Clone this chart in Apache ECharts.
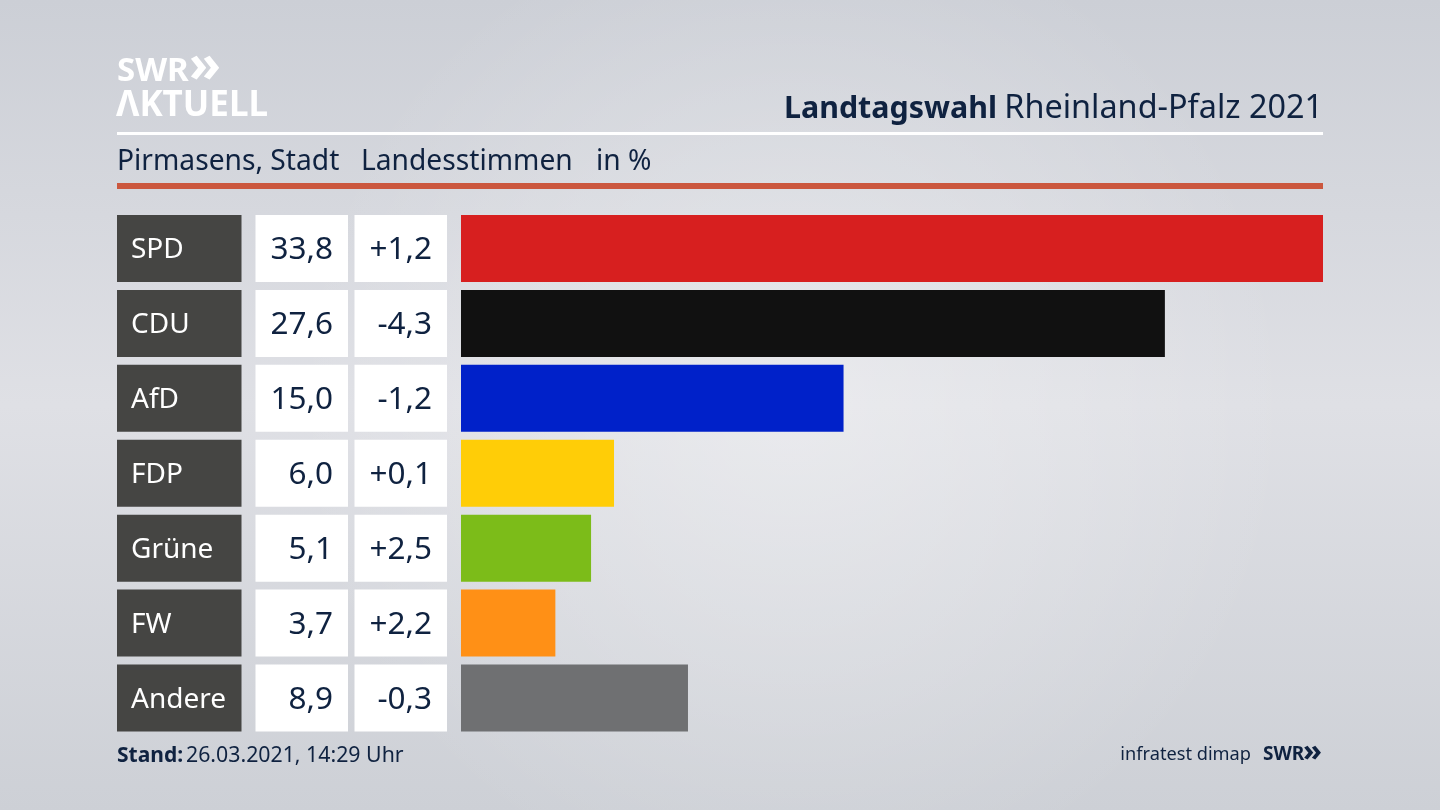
<!DOCTYPE html>
<html>
<head>
<meta charset="utf-8">
<title>Landtagswahl Rheinland-Pfalz 2021</title>
<style>
html, body { margin: 0; padding: 0; background: #d8dadf; }
#chart { width: 1440px; height: 810px; }
</style>
<script src="https://cdn.jsdelivr.net/npm/echarts@6/dist/echarts.min.js"></script>
</head>
<body>
<div id="chart"></div>
<script>
var parties = ['SPD', 'CDU', 'AfD', 'FDP', 'Grüne', 'FW', 'Andere'];
var shares = [33.8, 27.6, 15.0, 6.0, 5.1, 3.7, 8.9];
var changes = ['+1,2', '-4,3', '-1,2', '+0,1', '+2,5', '+2,2', '-0,3'];
var colors = ['#d71f1f', '#111111', '#0021c9', '#ffcd07', '#7cbc19', '#ff9016', '#6f7072'];

var font = '"Noto Sans", sans-serif';
var navy = '#0f2240';

function shareText(v) {
    return v.toFixed(1).replace('.', ',');
}

// one grid per column, they all share the same rows
function makeGrid(left, width) {
    return { left: left, width: width, top: 211, height: 524.5 };
}
var grids = [makeGrid(117, 124.5), makeGrid(255.5, 92.5), makeGrid(354.5, 92.5), makeGrid(461, 862)];

var xAxes = grids.map(function (g, i) {
    return { gridIndex: i, type: 'value', min: 0, max: i == 3 ? 33.8 : 1, show: false };
});
var yAxes = grids.map(function (g, i) {
    return { gridIndex: i, type: 'category', inverse: true, data: parties, show: false };
});

function cellSeries(index, color, textColor, align, padding, texts) {
    return {
        type: 'bar',
        xAxisIndex: index,
        yAxisIndex: index,
        barWidth: 67,
        silent: true,
        itemStyle: { color: color },
        label: {
            show: true,
            position: align == 'left' ? 'insideLeft' : 'insideRight',
            distance: padding,
            offset: [0, 2],
            color: textColor,
            fontFamily: font,
            fontSize: index == 0 ? 28 : 31.5,
            formatter: function (p) { return texts[p.dataIndex]; }
        },
        data: parties.map(function () { return 1; }),
        animation: false
    };
}

function text(x, y, str, size, opt) {
    opt = opt || {};
    return {
        type: 'text',
        x: x,
        y: y,
        style: {
            text: str,
            fontFamily: font,
            fontSize: size,
            fontWeight: opt.weight || 'normal',
            fill: opt.fill || navy,
            align: opt.align || 'left',
            verticalAlign: 'middle'
        }
    };
}

var option = {
    backgroundColor: {
        type: 'linear', x: 0, y: 0, x2: 0, y2: 1,
        colorStops: [
            { offset: 0, color: '#cccfd6' },
            { offset: 0.5, color: '#dfe0e5' },
            { offset: 1, color: '#cdd0d6' }
        ]
    },
    animation: false,
    grid: grids,
    xAxis: xAxes,
    yAxis: yAxes,
    series: [
        cellSeries(0, '#454543', '#ffffff', 'left', 14, parties),
        cellSeries(1, '#ffffff', navy, 'right', 15, shares.map(shareText)),
        cellSeries(2, '#ffffff', navy, 'right', 15, changes),
        {
            type: 'bar',
            xAxisIndex: 3,
            yAxisIndex: 3,
            barWidth: 67,
            silent: true,
            data: shares.map(function (v, i) {
                return { value: v, itemStyle: { color: colors[i] } };
            })
        }
    ],
    graphic: [
        // soft light spot in the middle of the backdrop
        {
            type: 'rect', z: -10, shape: { x: 0, y: 0, width: 1440, height: 810 },
            style: {
                fill: {
                    type: 'radial', x: 0.55, y: 0.5, r: 0.62,
                    colorStops: [
                        { offset: 0, color: 'rgba(255,255,255,0.35)' },
                        { offset: 1, color: 'rgba(255,255,255,0)' }
                    ]
                }
            }
        },
        { type: 'rect', shape: { x: 117, y: 132, width: 1206, height: 3 }, style: { fill: '#ffffff' } },
        { type: 'rect', shape: { x: 117, y: 183, width: 1206, height: 6 }, style: { fill: '#cb573e' } },
        text(117, 72, 'SWR', 33, { weight: 'bold', fill: '#ffffff' }),
        text(189, 67, '»', 52, { weight: 'bold', fill: '#ffffff' }),
        text(116, 106, 'ΛKTUELL', 35, { weight: 'bold', fill: '#ffffff' }),
        text(1323, 109, 'Rheinland-Pfalz 2021', 32.4, { align: 'right' }),
        text(997, 109, 'Landtagswahl', 30.4, { align: 'right', weight: 'bold' }),
        text(117, 162, 'Pirmasens, Stadt', 28.2),
        text(361, 162, 'Landesstimmen', 28.2),
        text(596, 162, 'in %', 28.2),
        text(117, 756, 'Stand:', 21, { weight: 'bold' }),
        text(186, 756, '26.03.2021, 14:29 Uhr', 21.3),
        text(1251, 755, 'infratest dimap', 18.2, { align: 'right' }),
        text(1263, 755, 'SWR', 19, { weight: 'bold' }),
        text(1303, 752, '»', 31, { weight: 'bold' })
    ]
};

var myChart = echarts.init(document.getElementById('chart'));
myChart.setOption(option);
</script>
</body>
</html>
